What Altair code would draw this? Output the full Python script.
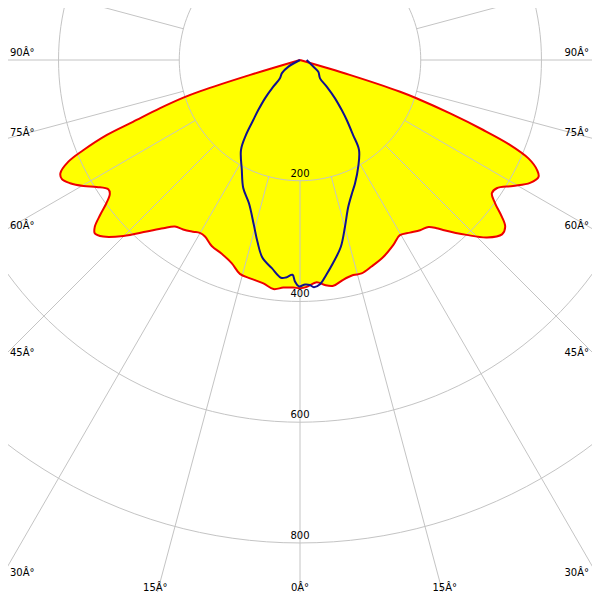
import math
import altair as alt
import pandas as pd

# ---- data (angle in degrees, 0 = straight down, negative = left; intensity in cd) ----
red_angles = [-90, -73.3, -72.6, -72.1, -71.0, -69.7, -68.8, -67.4, -66.3, -64.7, -63.4, -61.8,
              -59.8, -58.0, -56.0, -54.9, -53.5, -52.2, -50.9, -49.8, -48.1, -45.1, -41.8, -39.1,
              -36.9, -34.6, -31.9, -30.1, -28.3, -25.4, -22.1, -18.6, -15.7, -12.9, -9.3, -6.6,
              -4.2, -1.7, 0, 1.7, 4.3, 6.3, 8.4, 11.1, 13.9, 16.1, 19.1, 23.0, 26.8, 29.7, 32.5,
              35.2, 37.6, 39.1, 40.1, 43.6, 46.5, 49.2, 50.9, 52.2, 53.7, 55.2, 56.9, 59.4, 61.9,
              63.9, 65.1, 66.7, 68.0, 69.1, 70.4, 71.8, 72.4, 73.3, 90]
red_values = [0, 86, 174, 203, 245, 295, 343, 389, 419, 439, 441, 432,
              415, 397, 383, 385, 399, 419, 438, 445, 438, 413, 381, 359,
              345, 341, 335, 331, 332, 341, 346, 355, 368, 371, 375, 382,
              378, 377, 378, 376, 369, 375, 378, 371, 367, 368, 362, 354, 343, 334, 339,
              345, 349, 359, 368, 400, 427, 442, 438, 423, 401, 387, 389, 410, 432,
              440, 433, 412, 375, 325, 264, 203, 174, 86, 0]

blue_angles = [-90, -60.2, -54.0, -47.5, -45.0, -42.4, -39.8, -37.9, -35.8, -33.3,
               -27.9, -23.9, -19.6, -15.6, -13.2, -10.8, -7.7, -5.0, -3.7, -2.0,
               -1.3, -0.3, 1.3, 2.5, 3.5, 5.1, 6.9, 9.2, 12.3, 15.1,
               18.2, 21.7, 24.0, 28.7, 33.3, 35.3, 37.9, 39.8, 42.4, 45.0,
               47.5, 57.4, 63.3, 90]
blue_values = [0, 22, 37, 45, 63, 86, 108, 126, 153, 178,
               206, 232, 252, 284, 309, 333, 348, 362, 361, 356,
               367, 375, 372, 373, 377, 373, 359, 341, 317, 286,
               256, 235, 224, 201, 178, 152, 126, 108, 86, 63,
               45, 36, 25, 11]

circle_values = [200, 400, 600, 800]
spoke_angles = list(range(-180, 181, 15))
side_label_angles = [90, 75, 60, 45, 30]
bottom_label_angles = [-15, 0, 15]
deg = "\u00c2\u00b0"

# ---- geometry (reference: centre at (300, 60) px, 0.6037 px per cd) ----
PX = 0.6037
CX, CY = 300, 60
X_DOM = [(8 - CX) / PX, (592 - CX) / PX]
Y_DOM = [-(592 - CY) / PX, -(8 - CY) / PX]
HALF_W = 300 / PX          # distance centre -> left/right edge in cd
DOWN = 540 / PX            # distance centre -> bottom edge in cd

xs = alt.Scale(domain=X_DOM, nice=False, zero=False)
ys = alt.Scale(domain=Y_DOM, nice=False, zero=False)


def polar_df(angles, values):
    rows = []
    for i, (a, v) in enumerate(zip(angles, values)):
        r = math.radians(a)
        rows.append({"i": i, "x": v * math.sin(r), "y": -v * math.cos(r)})
    return pd.DataFrame(rows)


red_df = polar_df(red_angles, red_values)
blue_df = polar_df(blue_angles, blue_values)

circ_rows = []
for R in circle_values:
    for k in range(0, 361, 2):
        t = math.radians(k)
        circ_rows.append({"R": R, "k": k, "x": R * math.sin(t), "y": -R * math.cos(t)})
circ_df = pd.DataFrame(circ_rows)

spoke_rows = []
for a in spoke_angles:
    t = math.radians(a)
    for j, r in enumerate([circle_values[0], 3000]):
        spoke_rows.append({"a": a, "j": j, "x": r * math.sin(t), "y": -r * math.cos(t)})
spoke_df = pd.DataFrame(spoke_rows)

X = lambda f="x:Q": alt.X(f, scale=xs, axis=None)
Y = lambda f="y:Q": alt.Y(f, scale=ys, axis=None)

fill = alt.Chart(red_df).mark_line(fill="#ffff00", strokeOpacity=0, clip=True,
                                   interpolate="catmull-rom").encode(
    x=X(), y=Y(), order="i:Q")

circles = alt.Chart(circ_df).mark_line(color="#c4c4c4", strokeWidth=1, clip=True).encode(
    x=X(), y=Y(), detail="R:N", order="k:Q")

spokes = alt.Chart(spoke_df).mark_line(color="#c4c4c4", strokeWidth=1, clip=True).encode(
    x=X(), y=Y(), detail="a:N", order="j:Q")

red = alt.Chart(red_df).mark_line(color="#ee0000", strokeWidth=2, clip=True,
                                  interpolate="catmull-rom").encode(
    x=X(), y=Y(), order="i:Q")

blue = alt.Chart(blue_df).mark_line(color="#101090", strokeWidth=2, clip=True,
                                    interpolate="catmull-rom").encode(
    x=X(), y=Y(), order="i:Q")

font = dict(font="DejaVu Sans", fontSize=10, color="black")

ring_lab = pd.DataFrame({"x": [0] * len(circle_values),
                         "y": [-R for R in circle_values],
                         "t": [str(R) for R in circle_values]})
ring_text = alt.Chart(ring_lab).mark_text(baseline="middle", align="center", dy=-7, **font).encode(
    x=X(), y=Y(), text="t:N")

left_lab = pd.DataFrame({"x": [-HALF_W] * len(side_label_angles),
                         "y": [-HALF_W / math.tan(math.radians(a)) for a in side_label_angles],
                         "t": [f"{a}{deg}" for a in side_label_angles]})
left_text = alt.Chart(left_lab).mark_text(baseline="middle", align="left", dx=10, dy=-7, **font).encode(
    x=X(), y=Y(), text="t:N")

right_lab = left_lab.assign(x=HALF_W)
right_text = alt.Chart(right_lab).mark_text(baseline="middle", align="right", dx=-11, dy=-7, **font).encode(
    x=X(), y=Y(), text="t:N")

bot_lab = pd.DataFrame({"x": [DOWN * math.tan(math.radians(a)) for a in bottom_label_angles],
                        "y": [-DOWN] * len(bottom_label_angles),
                        "t": [f"{abs(a)}{deg}" for a in bottom_label_angles]})
bot_text = alt.Chart(bot_lab).mark_text(baseline="middle", align="center", dy=-12, **font).encode(
    x=X(), y=Y(), text="t:N")

chart = alt.layer(fill, circles, spokes, red, blue, ring_text, left_text, right_text, bot_text).properties(
    width=584, height=584, padding=0, autosize="none"
).configure_view(strokeWidth=0)

chart.save("out.html", embed_options={"renderer": "svg", "actions": False})
